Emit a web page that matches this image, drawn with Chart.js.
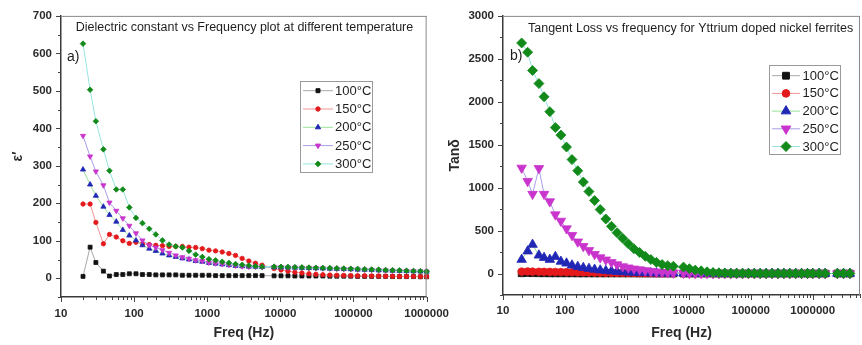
<!DOCTYPE html>
<html>
<head>
<meta charset="utf-8">
<script src="https://cdn.jsdelivr.net/npm/chart.js@4.4.1/dist/chart.umd.min.js"></script>
<style>
  html, body { margin: 0; padding: 0; background: #ffffff; overflow: hidden; width: 862px; height: 345px; position: relative; }
  #c1 { position: absolute; left: 0; top: 0; }
  #c2 { position: absolute; left: 440px; top: 0; }
</style>
</head>
<body>
<canvas id="c1" width="459" height="345" style="width:459px;height:345px"></canvas>
<canvas id="c2" width="429" height="345" style="width:429px;height:345px"></canvas>
<script>
// ---------------- DATA ----------------
const tempLabels = ['100°C', '150°C', '200°C', '250°C', '300°C'];

// measurement frequencies (Hz): low sweep, high sweep, extra points of panel b
const freqLow = [20, 25, 30, 38, 46, 57, 70, 86, 106, 130, 161, 198, 244, 301, 371, 457, 563, 694, 856, 1055, 1300, 1603, 1976, 2436, 3003, 3702, 4564, 5626];
const freqHigh = [8200, 10200, 12700, 15800, 19700, 24600, 30600, 38100, 47500, 59100, 73600, 91700, 114000, 142000, 177000, 221000, 275000, 342000, 426000, 531000, 661000, 823000, 1000000];
const freqExtra = [1270000, 1590000, 2500000, 3150000, 3980000];

// panel a) dielectric constant
const eps100 = [5, 83, 42, 19, 6, 10, 10, 12, 12, 10, 10, 9, 9, 9, 9, 8, 8, 8, 8, 8, 7, 7, 7, 7, 7, 7, 7, 7,
  6.5, 6.5, 6.5, 6, 6, 6, 6, 6, 5.5, 5.5, 5.5, 5.5, 5, 5, 5, 5, 5, 4.5, 4.5, 4.5, 4.5, 4, 4];
const eps150 = [198, 198, 149, 92, 117, 110, 100, 93, 96, 92, 90, 88, 87, 85, 85, 85, 83, 82, 79, 75, 73, 70, 66, 61, 53, 46, 40, 35,
  26, 22, 19, 16, 14, 12, 10.5, 9.5, 8.5, 8, 7.5, 7, 6.5, 6.5, 6, 6, 5.5, 5.5, 5, 5, 5, 4.5, 4.5];
const eps200 = [290, 250, 220, 191, 169, 151, 129, 114, 101, 88, 79, 73, 66, 61, 57, 53, 50, 46, 44, 41, 39, 37, 35, 33, 32, 31, 31, 30,
  29.5, 29, 28.5, 28, 27.5, 27, 26.5, 26, 25.5, 25, 24.5, 24, 23, 22.5, 22, 21, 20.5, 20, 19.5, 19, 18.5, 18, 17.5];
const eps250 = [380, 325, 285, 248, 202, 180, 160, 140, 120, 101, 88, 82, 75, 68, 61, 56, 52, 48, 46, 42, 40, 38, 36, 34, 32, 31, 31, 30,
  30, 29.5, 29, 28.5, 28, 27.5, 27, 26.5, 26, 25.5, 25, 24.5, 23.5, 23, 22.5, 21.5, 21, 20.5, 20, 19.5, 19, 18.5, 18];
const eps300 = [626, 503, 419, 344, 287, 237, 237, 189, 161, 147, 132, 117, 101, 90, 85, 82, 73, 63, 57, 51, 48, 44, 41, 38, 36, 34, 32, 31,
  31, 30.5, 30, 29.5, 29, 28.5, 28, 27.5, 27, 26.5, 26, 25.5, 25, 24, 23.5, 23, 22, 21.5, 21, 20, 19.5, 19, 18];

// panel b) tangent loss
const tan100 = [3, 6, 4, 3, 3, 2, 2, 2, 2, 2, 1, 1, 1, 1, 1, 1, 1, 1, 1, 1, 1, 0, 0, 0, 0, 0, 0, 0,
  0, 0, 0, 0, 0, 0, 0, 0, 0, 0, 0, 0, 0, 0, 0, 0, 0, 0, 0, 0, 0, 0, 0, 0, 0, 0, 0, 0];
const tan150 = [22, 24, 22, 21, 20, 19, 18, 17, 16, 15, 14, 13, 12, 11, 10, 9, 8, 7, 6, 5, 5, 4, 3, 3, 2, 2, 2, 1,
  1, 1, 1, 1, 1, 0, 0, 0, 0, 0, 0, 0, 0, 0, 0, 0, 0, 0, 0, 0, 0, 0, 0, 0, 0, 0, 0, 0];
const tan200 = [162, 260, 337, 212, 185, 162, 196, 140, 119, 96, 80, 67, 57, 47, 39, 32, 27, 22, 18, 15, 12, 10, 8, 6, 5, 4, 3, 3,
  2, 2, 2, 1, 1, 1, 1, 1, 0, 0, 0, 0, 0, 0, 0, 0, 0, 0, 0, 0, 0, 0, 0, 0, 0, 0, 0, 0];
const tan250 = [1230, 1075, 925, 1225, 925, 838, 686, 612, 523, 446, 370, 318, 270, 225, 186, 160, 130, 105, 82, 68, 55, 46, 35, 27, 20, 15, 11, 8,
  6, 4, 3, 2, 2, 1, 1, 1, 0, 0, 0, 0, 0, 0, 0, 0, 0, 0, 0, 0, 0, 0, 0, 0, 0, 0, 0, 0];
const tan300 = [2685, 2577, 2365, 2212, 2058, 1885, 1700, 1612, 1473, 1327, 1197, 1065, 955, 850, 745, 635, 550, 475, 410, 346, 288, 246, 200, 163, 130, 105, 92, 85,
  75, 57, 40, 31, 20, 12, 8, 5, 4, 3, 2, 2, 1, 1, 1, 1, 1, 1, 1, 1, 1, 1, 1, 1, 1, 1, 1, 1];

// tick labels
const xTickLabels = ['10', '100', '1000', '10000', '100000', '1000000'];
const epsTickLabels = ['0', '100', '200', '300', '400', '500', '600', '700'];
const tanTickLabels = ['0', '500', '1000', '1500', '2000', '2500', '3000'];

// ---------------- STYLE ----------------
const FONT = 'Arial, "Liberation Sans", Helvetica, sans-serif';
const markerColors = ['#111111', '#e3191c', '#2127b5', '#c934cc', '#118a1a'];
const lineColors = ['#a8a8a8', '#f29494', '#98e398', '#a89ee8', '#96e4df'];
const pointStyles = ['rect', 'circle', 'triangle', 'triangle', 'rectRot'];
const pointRotations = [0, 0, 0, 180, 0];
const radiiA = [2.8, 2.2, 3, 3, 2.8];
const radiiB = [4.8, 3.8, 5.5, 5.5, 5];

function toPoints(freqs, vals) {
  return vals.map((v, i) => ({ x: freqs[i], y: v }));
}
function isDecade(v) {
  const l = Math.log10(v);
  return Math.abs(l - Math.round(l)) < 1e-9;
}

const panelPlugin = {
  id: 'panel',
  afterDraw(chart, args, o) {
    const { ctx, chartArea: a, scales } = chart;
    ctx.save();
    // top and right frame lines
    ctx.strokeStyle = '#8a8a8a';
    ctx.lineWidth = 1;
    ctx.beginPath();
    ctx.moveTo(a.left, a.top + 0.5); ctx.lineTo(a.right, a.top + 0.5);
    ctx.moveTo(a.right - 0.5, a.top); ctx.lineTo(a.right - 0.5, a.bottom);
    ctx.stroke();
    // major / minor ticks taken from the library's scales
    ctx.strokeStyle = '#444';
    ctx.beginPath();
    const xs = scales.x, ys = scales.y;
    xs.ticks.forEach(t => {
      const p = xs.getPixelForValue(t.value);
      if (p < a.left - 0.5 || p > a.right + 0.5) return;
      const L = isDecade(t.value) ? 5 : 3;
      const px = Math.round(p) + 0.5;
      ctx.moveTo(px, a.bottom); ctx.lineTo(px, a.bottom + L);
    });
    ys.ticks.forEach(t => {
      const p = ys.getPixelForValue(t.value);
      if (p < a.top - 0.5 || p > a.bottom + 0.5) return;
      const L = (t.value % o.yMajor === 0) ? 5 : 3;
      const py = Math.round(p) + 0.5;
      ctx.moveTo(a.left - L, py); ctx.lineTo(a.left, py);
    });
    ctx.stroke();
    // panel title and letter
    ctx.fillStyle = '#1e1e1e';
    ctx.textBaseline = 'middle';
    ctx.font = '12.5px ' + FONT;
    ctx.textAlign = o.titleAlign;
    ctx.fillText(o.title, o.titleX, o.titleY);
    ctx.font = '14px ' + FONT;
    ctx.textAlign = 'left';
    ctx.fillText(o.letter, o.letterX, o.letterY);
    // legend
    const L = o.legend;
    ctx.fillStyle = '#ffffff';
    ctx.fillRect(L.x, L.y, L.w, L.h);
    ctx.strokeStyle = '#9a9a9a';
    ctx.lineWidth = 1;
    ctx.strokeRect(L.x + 0.5, L.y + 0.5, L.w, L.h);
    chart.data.datasets.forEach((ds, i) => {
      const y = L.firstY + i * L.step;
      ctx.strokeStyle = ds.borderColor;
      ctx.lineWidth = 1;
      ctx.beginPath();
      ctx.moveTo(L.lineX0, y); ctx.lineTo(L.lineX1, y);
      ctx.stroke();
      ctx.fillStyle = ds.pointBackgroundColor;
      ctx.strokeStyle = ds.pointBorderColor;
      Chart.helpers.drawPoint(ctx, {
        pointStyle: ds.pointStyle, rotation: ds.pointRotation,
        radius: ds.pointRadius, borderWidth: ds.pointBorderWidth
      }, (L.lineX0 + L.lineX1) / 2, y);
      ctx.fillStyle = '#1e1e1e';
      ctx.font = '13px ' + FONT;
      ctx.textAlign = 'left';
      ctx.textBaseline = 'middle';
      ctx.fillText(ds.label, L.textX, y + 0.5);
    });
    ctx.restore();
  }
};

function buildDatasets(freqs, series, radii) {
  return series.map((vals, i) => ({
    label: tempLabels[i],
    data: toPoints(freqs, vals),
    borderColor: lineColors[i],
    borderWidth: 1,
    backgroundColor: markerColors[i],
    pointBackgroundColor: markerColors[i],
    pointBorderColor: markerColors[i],
    pointBorderWidth: 0.8,
    pointStyle: pointStyles[i],
    pointRotation: pointRotations[i],
    pointRadius: radii[i],
    tension: 0,
    clip: false,
    order: 4 - i
  }));
}

function makeChart(id, cfg) {
  return new Chart(document.getElementById(id), {
    type: 'line',
    data: { datasets: buildDatasets(cfg.freqs, cfg.series, cfg.radii) },
    options: {
      responsive: false,
      animation: false,
      devicePixelRatio: 1,
      layout: { padding: cfg.padding },
      plugins: {
        legend: { display: false },
        tooltip: { enabled: false },
        panel: cfg.panel
      },
      scales: {
        x: {
          type: 'logarithmic',
          min: 10,
          max: cfg.xMax,
          grid: { display: false, drawTicks: false, tickLength: 0 },
          border: { display: true, color: '#3a3a3a', width: 1.5 },
          afterFit: s => { s.height = cfg.xHeight; },
          ticks: {
            autoSkip: false, maxRotation: 0, minRotation: 0,
            padding: cfg.xTickPad,
            color: '#2a2a2a',
            font: { family: FONT, size: 11.5, weight: 'bold' },
            callback: v => {
              const k = Math.round(Math.log10(v)) - 1;
              return (isDecade(v) && k >= 0 && k < xTickLabels.length) ? xTickLabels[k] : '';
            }
          },
          title: {
            display: true, text: 'Freq (Hz)', color: '#2a2a2a',
            font: { family: FONT, size: 14, weight: 'bold' },
            padding: { top: 0, bottom: 3.5 }
          }
        },
        y: {
          type: 'linear',
          min: cfg.yMin,
          max: cfg.yMax,
          grid: { display: false, drawTicks: false, tickLength: 0 },
          border: { display: true, color: '#3a3a3a', width: 1.5 },
          afterFit: s => { s.width = cfg.yWidth; },
          ticks: {
            stepSize: cfg.yMinor,
            padding: 9,
            color: '#2a2a2a',
            font: { family: FONT, size: 11.5, weight: 'bold' },
            callback: v => {
              if (v < 0 || v % cfg.yMajor !== 0) return '';
              return cfg.yLabels[Math.round(v / cfg.yMajor)];
            }
          },
          title: {
            display: true, text: cfg.yTitle, color: '#2a2a2a',
            font: { family: FONT, size: 14, weight: 'bold' },
            padding: { top: cfg.yTitlePad, bottom: 0 }
          }
        }
      }
    },
    plugins: [panelPlugin]
  });
}

makeChart('c1', {
  freqs: freqLow.concat(freqHigh),
  series: [eps100, eps150, eps200, eps250, eps300],
  radii: radiiA,
  xMax: 1000000,
  yMin: -50, yMax: 700, yMajor: 100, yMinor: 50, yLabels: epsTickLabels,
  yTitle: 'ε′', yTitlePad: 10,
  yWidth: 61, xHeight: 48, xTickPad: 10,
  padding: { top: 13, right: 24, left: 0, bottom: 0 },
  panel: {
    yMajor: 100,
    title: 'Dielectric constant vs Frequency plot at different temperature',
    titleAlign: 'center', titleX: 244.5, titleY: 28,
    letter: 'a)', letterX: 67, letterY: 57,
    legend: { x: 300, y: 81, w: 72, h: 91, firstY: 90.7, step: 18.3, lineX0: 303, lineX1: 333, textX: 335 }
  }
});

makeChart('c2', {
  freqs: freqLow.concat(freqHigh, freqExtra),
  series: [tan100, tan150, tan200, tan250, tan300],
  radii: radiiB,
  xMax: 5800000,
  yMin: -250, yMax: 3000, yMajor: 500, yMinor: 250, yLabels: tanTickLabels,
  yTitle: 'Tanδ', yTitlePad: 6.5,
  yWidth: 63, xHeight: 50, xTickPad: 9,
  padding: { top: 13, right: 0, left: 0, bottom: 0 },
  panel: {
    yMajor: 500,
    title: 'Tangent Loss vs frequency for Yttrium doped nickel ferrites',
    titleAlign: 'left', titleX: 88, titleY: 29,
    letter: 'b)', letterX: 70, letterY: 56,
    legend: { x: 329, y: 65, w: 71, h: 89, firstY: 75.7, step: 17.7, lineX0: 332, lineX1: 360, textX: 362.5 }
  }
});
</script>
</body>
</html>
